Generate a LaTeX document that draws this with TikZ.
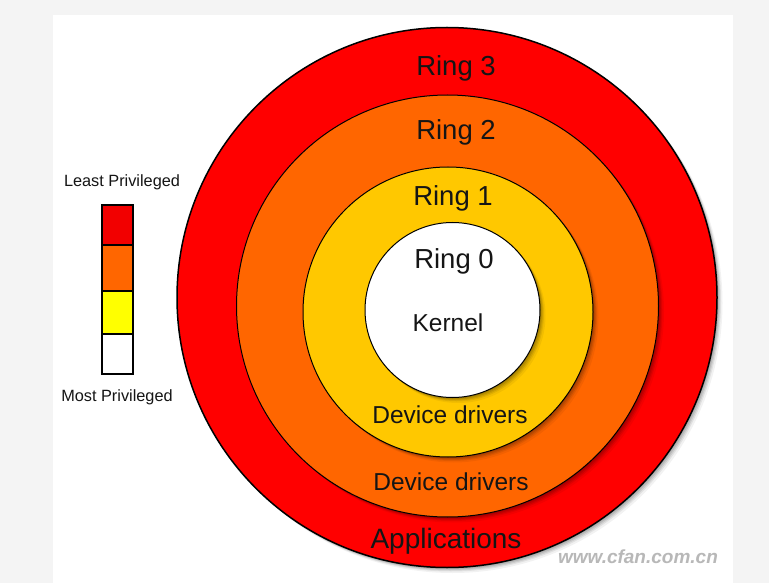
\documentclass[tikz,border=0pt]{standalone}
\usepackage{fontspec}
\setmainfont{Liberation Sans}
\definecolor{bggray}{HTML}{F4F4F4}
\definecolor{ringred}{HTML}{FF0000}
\definecolor{ringorange}{HTML}{FF6600}
\definecolor{ringyellow}{HTML}{FFC800}
\definecolor{legred}{HTML}{F20000}
\definecolor{legorange}{HTML}{FF6600}
\definecolor{legyellow}{HTML}{FFFF00}
\definecolor{txt}{HTML}{151515}
\definecolor{wmark}{HTML}{B8B8B8}
\tikzset{
  softshadow/.style={
    preaction={fill=black, fill opacity=0.10, transform canvas={xshift=1pt, yshift=-1pt}},
    preaction={fill=black, fill opacity=0.10, transform canvas={xshift=2pt, yshift=-2pt}},
    preaction={fill=black, fill opacity=0.09, transform canvas={xshift=3pt, yshift=-3pt}},
    preaction={fill=black, fill opacity=0.07, transform canvas={xshift=4pt, yshift=-4pt}},
    preaction={fill=black, fill opacity=0.05, transform canvas={xshift=5.5pt, yshift=-5.5pt}}},
  ring/.style={circle, draw=black, line width=1.2pt, inner sep=0pt, softshadow},
  ringlabel/.style={anchor=base, text=txt, font=\fontsize{27.5}{32}\selectfont, inner sep=0pt},
  smalllabel/.style={anchor=base, text=txt, font=\fontsize{16.3}{19}\selectfont, inner sep=0pt},
  legbox/.style={rectangle, draw=black, line width=1.6pt, minimum width=31pt, inner sep=0pt, anchor=north}
}
\begin{document}
\begin{tikzpicture}[x=1pt,y=-1pt]
\useasboundingbox (0,0) rectangle (769,583);
\fill[bggray] (0,0) rectangle (769,583);
\fill[white] (53,15) rectangle (733,583);
% rings
\node[ring, fill=ringred, minimum size=540pt, line width=1.5pt] (r3) at (447,297.5) {};
\node[ring, fill=ringorange, minimum size=422pt, line width=1pt] (r2) at (447.5,306) {};
\node[ring, fill=ringyellow, minimum size=290pt, line width=1pt] (r1) at (448,312) {};
\node[ring, fill=white, minimum size=175pt, line width=1pt] (r0) at (452.5,310) {};
% ring labels
\node[ringlabel] (l3) at (456,76) {Ring 3};
\node[ringlabel] (l2) at (456,140) {Ring 2};
\node[ringlabel] (l1) at (453,205) {Ring 1};
\node[ringlabel] (l0) at (454,269) {Ring 0};
\node[ringlabel, font=\fontsize{24.5}{28}\selectfont] (kern) at (448,331) {Kernel};
\node[ringlabel, font=\fontsize{24.5}{28}\selectfont] (dd1) at (450,423) {Device drivers};
\node[ringlabel, font=\fontsize{24.5}{28}\selectfont] (dd2) at (451,490) {Device drivers};
\node[ringlabel, font=\fontsize{28}{32}\selectfont] (apps) at (446,548) {Applications};
% legend
\node[smalllabel] (least) at (122,187) {Least Privileged};
\node[legbox, fill=legred, minimum height=40pt] (b3) at (117.5,204) {};
\node[legbox, fill=legorange, minimum height=46pt] (b2) at (117.5,244) {};
\node[legbox, fill=legyellow, minimum height=43pt] (b1) at (117.5,290) {};
\node[legbox, fill=white, minimum height=40pt] (b0) at (117.5,333) {};
\node[smalllabel] (most) at (117,401) {Most Privileged};
% watermark
\node[anchor=base, text=wmark, inner sep=0pt, font=\fontsize{19}{22}\selectfont\bfseries\itshape] (wm) at (638,563) {www.cfan.com.cn};
\end{tikzpicture}
\end{document}
